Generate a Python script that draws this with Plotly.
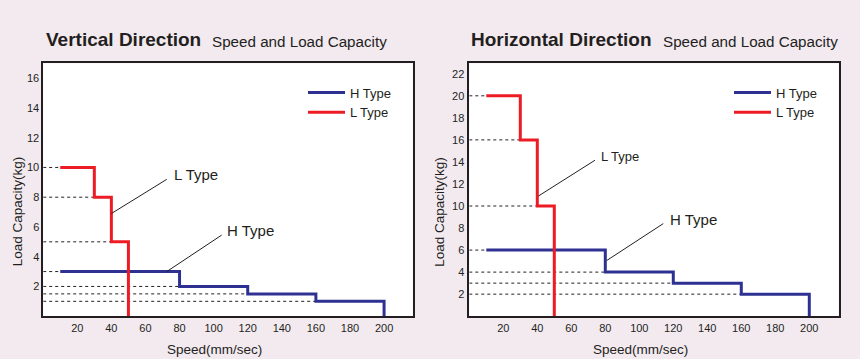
import plotly.graph_objects as go

# ---------------- data ----------------
speed_ticks = [20, 40, 60, 80, 100, 120, 140, 160, 180, 200]
v_load_ticks = [2, 4, 6, 8, 10, 12, 14, 16]
h_load_ticks = [2, 4, 6, 8, 10, 12, 14, 16, 18, 20, 22]

# Vertical direction
v_h_speed = [10, 80, 120, 160, 200]
v_h_load = [3, 2, 1.5, 1]
v_l_speed = [10, 30, 40, 50]
v_l_load = [10, 8, 5]

# Horizontal direction
h_h_speed = [10, 80, 120, 160, 200]
h_h_load = [6, 4, 3, 2]
h_l_speed = [10, 30, 40, 50]
h_l_load = [20, 16, 10]

series_names = ["H Type", "L Type"]

# callout labels: (leader start x, y), (leader end x, y), (text x, y)
v_l_call = [(40, 6.9), (72.5, 9.2), (75.5, 9.5)]
v_h_call = [(72.5, 3.0), (104.7, 5.45), (106.5, 5.75)]
h_l_call = [(40.6, 10.9), (73.9, 14.15), (76.5, 14.5)]
h_h_call = [(80.8, 5.05), (114.1, 8.4), (117, 8.8)]

# ---------------- style ----------------
BLUE = "#2e3192"
RED = "#ed1c24"
INK = "#231f20"
BG = "#f3eaf0"
FONT = "Liberation Sans, Arial, sans-serif"
W, H = 860, 359


def px_x(p):
    return p / W


def px_y(p):
    return 1 - p / H


fig = go.Figure()


def add_panel(xa, ya, h_speed, h_load, l_speed, l_load, legend):
    # dotted guide lines from the axis to the start of each step
    gx, gy = [], []
    for sp, ld in [(h_speed, h_load), (l_speed, l_load)]:
        for s, v in zip(sp[:-1], ld):
            gx += [0, s, None]
            gy += [v, v, None]
    fig.add_trace(go.Scatter(x=gx, y=gy, mode="lines", xaxis=xa, yaxis=ya,
                             line=dict(color=INK, width=1, dash="dot"),
                             showlegend=False, hoverinfo="skip"))
    fig.add_trace(go.Scatter(x=h_speed, y=h_load + [0], mode="lines", xaxis=xa, yaxis=ya,
                             line=dict(color=BLUE, width=3, shape="hv"),
                             name=series_names[0], legend=legend))
    fig.add_trace(go.Scatter(x=l_speed, y=l_load + [0], mode="lines", xaxis=xa, yaxis=ya,
                             line=dict(color=RED, width=3, shape="hv"),
                             name=series_names[1], legend=legend))


add_panel("x", "y", v_h_speed, v_h_load, v_l_speed, v_l_load, "legend")
add_panel("x2", "y2", h_h_speed, h_h_load, h_l_speed, h_l_load, "legend2")

annotations = []


def add_callout(call, text, size, xa, ya):
    (x0, y0), (x1, y1), (tx, ty) = call
    fig.add_trace(go.Scatter(x=[x0, x1], y=[y0, y1], mode="lines", xaxis=xa, yaxis=ya,
                             line=dict(color=INK, width=1), showlegend=False, hoverinfo="skip"))
    annotations.append(dict(x=tx, y=ty, xref=xa, yref=ya, text=text, showarrow=False,
                            xanchor="left", yanchor="middle",
                            font=dict(family=FONT, size=size, color=INK)))


add_callout(v_l_call, "L Type", 15, "x", "y")
add_callout(v_h_call, "H Type", 15, "x", "y")
add_callout(h_l_call, "L Type", 13, "x2", "y2")
add_callout(h_h_call, "H Type", 15, "x2", "y2")

# titles
for bx, rx, bold in [(44, 210, "Vertical Direction"), (469.3, 660.7, "Horizontal Direction")]:
    annotations.append(dict(x=px_x(bx), y=px_y(39.5), xref="paper", yref="paper",
                            text="<b>" + bold + "</b>", showarrow=False,
                            xanchor="left", yanchor="middle",
                            font=dict(family=FONT, size=19, color=INK)))
    annotations.append(dict(x=px_x(rx), y=px_y(41), xref="paper", yref="paper",
                            text="Speed and Load Capacity", showarrow=False,
                            xanchor="left", yanchor="middle",
                            font=dict(family=FONT, size=15.2, color=INK)))

# axis titles
for cx in [214.7, 640.5]:
    annotations.append(dict(x=px_x(cx), y=px_y(349.5), xref="paper", yref="paper",
                            text="Speed(mm/sec)", showarrow=False,
                            xanchor="center", yanchor="middle",
                            font=dict(family=FONT, size=13.5, color=INK)))
for cx in [17.5, 440]:
    annotations.append(dict(x=px_x(cx), y=px_y(211.7), xref="paper", yref="paper",
                            text="Load Capacity(kg)", showarrow=False, textangle=-90,
                            xanchor="center", yanchor="middle",
                            font=dict(family=FONT, size=13.5, color=INK)))

axis_common = dict(showline=True, linecolor=INK, linewidth=1.5, mirror=True,
                   showgrid=False, zeroline=False, ticks="",
                   tickfont=dict(family=FONT, size=11, color=INK))

ytop, ybot = 63.3, 316.2
fig.update_layout(
    width=W, height=H,
    margin=dict(l=0, r=0, t=0, b=0),
    paper_bgcolor=BG, plot_bgcolor="white",
    showlegend=True,
    xaxis=dict(domain=[px_x(43.2), px_x(412.7)], range=[0, 216.8], anchor="y",
               tickvals=speed_ticks, ticklabelstandoff=1, **axis_common),
    yaxis=dict(domain=[px_y(ybot), px_y(ytop)], range=[0, 17], anchor="x",
               tickvals=v_load_ticks, ticklabelstandoff=0, **axis_common),
    xaxis2=dict(domain=[px_x(469.3), px_x(838.7)], range=[0, 217.3], anchor="y2",
                tickvals=speed_ticks, ticklabelstandoff=1, **axis_common),
    yaxis2=dict(domain=[px_y(ybot), px_y(ytop)], range=[0, 22.95], anchor="x2",
                tickvals=h_load_ticks, ticklabelstandoff=1, **axis_common),
    legend=dict(x=px_x(303), y=px_y(77.5), xanchor="left", yanchor="top",
                bgcolor="rgba(0,0,0,0)", font=dict(family=FONT, size=13, color=INK),
                tracegroupgap=0, itemwidth=37),
    legend2=dict(x=px_x(729), y=px_y(77.5), xanchor="left", yanchor="top",
                 bgcolor="rgba(0,0,0,0)", font=dict(family=FONT, size=13, color=INK),
                 tracegroupgap=0, itemwidth=37),
    annotations=annotations,
)

fig.write_html("out.html", config={"displayModeBar": False},
               post_script="document.body.style.margin='0';document.body.style.overflow='hidden';")
